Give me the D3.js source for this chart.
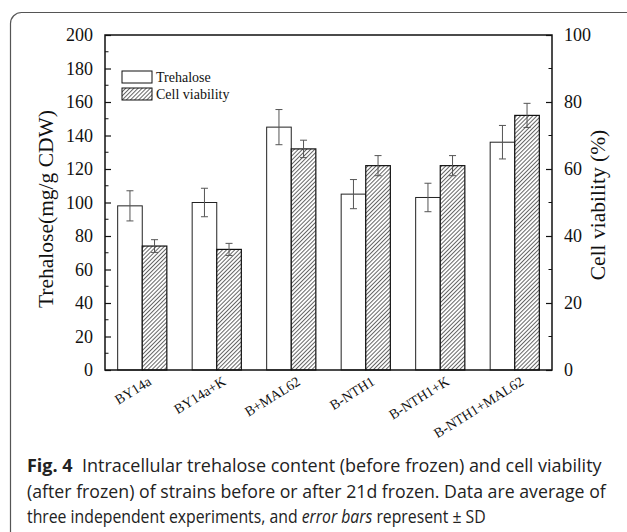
<!DOCTYPE html>
<meta charset="utf-8">
<style>
  body { margin: 0; background: #fff; }
  svg { display: block; }
</style>
<svg width="627" height="532"></svg>
<script src="https://d3js.org/d3.v7.min.js"></script>
<script>
  // strains on the x axis
  var strains = ['BY14a', 'BY14a+K', 'B+MAL62', 'B-NTH1', 'B-NTH1+K', 'B-NTH1+MAL62']
  // trehalose content, mg/g CDW (left axis)
  var trehalose = [98, 100, 145, 105, 103, 136]
  var trehaloseSD = [9, 8.5, 10.5, 8.7, 8.5, 10]
  // cell viability, % (right axis)
  var viability = [37, 36, 66, 61, 61, 76]
  var viabilitySD = [1.9, 1.8, 2.6, 3, 3, 3.6]

  var leftTicks = d3.range(0, 201, 20)
  var rightTicks = d3.range(0, 101, 20)

  var serif = '"Liberation Serif", "Times New Roman", serif'

  var svg = d3.select('svg')

  var plot = { left: 105, right: 552, top: 35, bottom: 370 }

  // hatch pattern for the viability bars
  svg.append('defs').append('pattern')
    .attr('id', 'hatch')
    .attr('patternUnits', 'userSpaceOnUse')
    .attr('width', 2.9)
    .attr('height', 2.9)
    .attr('patternTransform', 'rotate(45)')
    .call(p => p.append('rect').attr('width', 2.9).attr('height', 2.9).attr('fill', '#fff'))
    .append('line')
    .attr('x1', 0.5).attr('y1', 0).attr('x2', 0.5).attr('y2', 2.9)
    .attr('stroke', '#333')
    .attr('stroke-width', 0.75)

  // card outline
  svg.append('rect')
    .attr('x', 10.5).attr('y', 12.5)
    .attr('width', 640).attr('height', 560)
    .attr('rx', 11)
    .attr('fill', 'none')
    .attr('stroke', '#555')
    .attr('stroke-width', 1.2)

  var x = d3.scaleBand()
    .domain(strains)
    .range([plot.left, plot.right])

  var yL = d3.scaleLinear().domain([0, 200]).range([plot.bottom, plot.top])
  var yR = d3.scaleLinear().domain([0, 100]).range([plot.bottom, plot.top])

  var barW = x.bandwidth() * 0.33

  var rows = strains.map((s, i) => ({
    strain: s, t: trehalose[i], tsd: trehaloseSD[i], v: viability[i], vsd: viabilitySD[i]
  }))

  // bars
  var g = svg.append('g')
  g.selectAll('rect.tre')
    .data(rows)
    .enter().append('rect')
    .attr('class', 'tre')
    .attr('x', d => x(d.strain) + x.bandwidth() / 2 - barW)
    .attr('y', d => yL(d.t))
    .attr('width', barW)
    .attr('height', d => yL(0) - yL(d.t))
    .attr('fill', '#fff')
    .attr('stroke', '#222')
    .attr('stroke-width', 1)

  g.selectAll('rect.via')
    .data(rows)
    .enter().append('rect')
    .attr('class', 'via')
    .attr('x', d => x(d.strain) + x.bandwidth() / 2)
    .attr('y', d => yR(d.v))
    .attr('width', barW)
    .attr('height', d => yR(0) - yR(d.v))
    .attr('fill', 'url(#hatch)')
    .attr('stroke', '#111')
    .attr('stroke-width', 1.2)

  // error bars
  function errBars(cls, cx, cy, sd, scale) {
    var eb = g.selectAll('g.' + cls)
      .data(rows)
      .enter().append('g')
      .attr('class', cls)
      .attr('stroke', '#555')
      .attr('stroke-width', 1)
    eb.append('line')
      .attr('x1', cx).attr('x2', cx)
      .attr('y1', d => scale(cy(d) + sd(d))).attr('y2', d => scale(cy(d) - sd(d)))
    eb.append('line')
      .attr('x1', d => cx(d) - 3.5).attr('x2', d => cx(d) + 3.5)
      .attr('y1', d => scale(cy(d) + sd(d))).attr('y2', d => scale(cy(d) + sd(d)))
    eb.append('line')
      .attr('x1', d => cx(d) - 3.5).attr('x2', d => cx(d) + 3.5)
      .attr('y1', d => scale(cy(d) - sd(d))).attr('y2', d => scale(cy(d) - sd(d)))
  }
  errBars('etre', d => x(d.strain) + x.bandwidth() / 2 - barW / 2, d => d.t, d => d.tsd, yL)
  errBars('evia', d => x(d.strain) + x.bandwidth() / 2 + barW / 2, d => d.v, d => d.vsd, yR)

  // frame
  svg.append('rect')
    .attr('x', plot.left).attr('y', plot.top)
    .attr('width', plot.right - plot.left)
    .attr('height', plot.bottom - plot.top)
    .attr('fill', 'none')
    .attr('stroke', '#111')
    .attr('stroke-width', 1.5)

  // left axis, ticks pointing in
  var leftAxis = d3.axisLeft(yL).tickValues(leftTicks).tickSize(-6).tickPadding(12)
  var la = svg.append('g').attr('transform', `translate(${plot.left},0)`).call(leftAxis)
  la.append('g').selectAll('line')
    .data(d3.range(10, 200, 20))
    .enter().append('line')
    .attr('x1', 0).attr('x2', 3.5)
    .attr('y1', d => yL(d)).attr('y2', d => yL(d))
    .attr('stroke', '#111')

  var rightAxis = d3.axisRight(yR).tickValues(rightTicks).tickSize(-6).tickPadding(12)
  var ra = svg.append('g').attr('transform', `translate(${plot.right},0)`).call(rightAxis)
  ra.append('g').selectAll('line')
    .data(d3.range(10, 100, 20))
    .enter().append('line')
    .attr('x1', 0).attr('x2', -3.5)
    .attr('y1', d => yR(d)).attr('y2', d => yR(d))
    .attr('stroke', '#111')

  svg.selectAll('.domain').remove()
  la.attr('font-family', null).attr('font-size', null)
  ra.attr('font-family', null).attr('font-size', null)
  svg.selectAll('.tick line').attr('stroke', '#111').attr('stroke-width', 1.2)
  svg.selectAll('.tick text')
    .style('font-family', serif)
    .style('font-size', '18px')
    .attr('fill', '#111')

  // category labels
  svg.append('g').selectAll('text')
    .data(strains)
    .enter().append('text')
    .attr('transform', d => `translate(${x(d) + x.bandwidth() / 2 + 10},384) rotate(-32)`)
    .attr('text-anchor', 'end')
    .style('font-family', serif)
    .style('font-size', '14px')
    .attr('fill', '#111')
    .text(d => d)

  // axis titles
  svg.append('text')
    .attr('transform', 'translate(53,209) rotate(-90)')
    .attr('text-anchor', 'middle')
    .style('font-family', serif)
    .style('font-size', '21.5px')
    .attr('fill', '#111')
    .text('Trehalose(mg/g CDW)')

  svg.append('text')
    .attr('transform', 'translate(605,205) rotate(-90)')
    .attr('text-anchor', 'middle')
    .style('font-family', serif)
    .style('font-size', '21.5px')
    .attr('fill', '#111')
    .text('Cell viability (%)')

  // legend
  var legend = svg.append('g').style('font-family', serif).style('font-size', '14px').attr('fill', '#111')
  legend.append('rect').attr('x', 122).attr('y', 71).attr('width', 30).attr('height', 12)
    .attr('fill', '#fff').attr('stroke', '#111')
  legend.append('rect').attr('x', 122).attr('y', 88).attr('width', 30).attr('height', 12)
    .attr('fill', 'url(#hatch)').attr('stroke', '#111')
  legend.append('text').attr('x', 156).attr('y', 82).text('Trehalose')
  legend.append('text').attr('x', 156).attr('y', 99).text('Cell viability')

  // caption
  var capLines = [
    { y: 472, end: 602, parts: [['Fig. 4', 'bold', 'normal'], ['  Intracellular trehalose content (before frozen) and cell viability', 'normal', 'normal']] },
    { y: 497.5, end: 606, parts: [['(after frozen) of strains before or after 21d frozen. Data are average of', 'normal', 'normal']] },
    { y: 523, end: 486, parts: [['three independent experiments, and ', 'normal', 'normal'], ['error bars', 'normal', 'italic'], [' represent \u00b1 SD', 'normal', 'normal']] }
  ]
  capLines.forEach(line => {
    var t = svg.append('text')
      .style('font-family', '"Open Sans", "Noto Sans", sans-serif')
      .style('font-size', '18px')
      .attr('fill', '#222')
      .style('white-space', 'pre')
    line.parts.forEach(p => {
      t.append('tspan').attr('font-weight', p[1]).attr('font-style', p[2]).text(p[0])
    })
    var w = t.node().getComputedTextLength()
    var sx = (line.end - 27) / w
    t.attr('transform', `translate(27,${line.y}) scale(${sx},1)`)
  })
</script>
